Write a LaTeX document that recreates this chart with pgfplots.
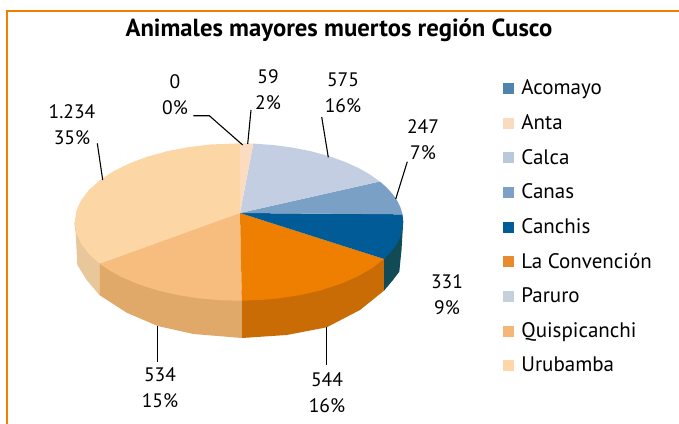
\documentclass[border=0pt]{standalone}
\usepackage{pgfplots}
\pgfplotsset{compat=1.18}
\usepackage{fontspec}
\setmainfont{PT Sans}
\definecolor{cAcomayo}{HTML}{4E84AE}
\definecolor{cAntaL}{HTML}{F8DCBD}
\definecolor{cCalcaL}{HTML}{B9C9DC}
\definecolor{cCanas}{HTML}{7EA0C6}
\definecolor{cCanchis}{HTML}{005C98}
\definecolor{cConvL}{HTML}{E88A2E}
\definecolor{cParuro}{HTML}{C5D1DA}
\definecolor{cQuispiL}{HTML}{F4B778}
\definecolor{cUruL}{HTML}{FDD7A8}
\definecolor{fAnta}{HTML}{FBDCC0}
\definecolor{fCalca}{HTML}{C3CEE2}
\definecolor{fCanas}{HTML}{7AA0C6}
\definecolor{fCanchis}{HTML}{005B97}
\definecolor{fConv}{HTML}{EE7F00}
\definecolor{fQuispi}{HTML}{F7BD7F}
\definecolor{fUru}{HTML}{FCD6A4}
\definecolor{wUru}{HTML}{E8C79B}
\definecolor{wQuispi}{HTML}{E0A96A}
\definecolor{wConv}{HTML}{C96C05}
\definecolor{wCanchis}{HTML}{124A56}
\definecolor{frameor}{HTML}{F08000}
\pgfplotsset{/pgfplots/table/face/.style={row sep=\\,
  x expr={240-\thisrow{r}+164.3*\thisrow{r}*cos(\thisrow{a})},
  y expr={213+9*\thisrow{r}+78.7*\thisrow{r}*sin(\thisrow{a})}}}
\newcommand{\lab}[3]{\node[align=center,font=\fontsize{19.5}{26}\selectfont,text=black] at (axis cs:#1,#2) {#3};}
\begin{document}
\begin{tikzpicture}
\useasboundingbox (0,0) rectangle (679pt,423pt);
\begin{axis}[
  at={(0,0)}, anchor=south west,
  width=679pt, height=423pt, scale only axis,
  xmin=0, xmax=679, ymin=0, ymax=423, y dir=reverse,
  hide axis, clip=true,
  legend cell align=left,
  legend style={at={(axis cs:503,78)},anchor=north west,draw=none,fill=none,
    inner sep=0pt, outer sep=0pt,
    font=\fontsize{21}{21}\selectfont,
    /tikz/every odd column/.append style={column sep=6pt},
    /tikz/row sep=14.2pt},
]
% frame
\addplot[forget plot,frameor,line width=2pt] coordinates {(7,430) (7,10.5) (685,10.5)};
% walls
\addplot[forget plot,fill=wUru,draw=none] coordinates {(74.3,223) (75.7,233) (77.3,265) (86.7,280) (99.3,295) (99.3,263) (200,220)};
\addplot[forget plot,fill=wQuispi,draw=none] coordinates {(99.3,263) (99.3,295) (126.7,312.7) (157.7,326) (193.3,334) (242,338) (242,290)};
\addplot[forget plot,fill=wConv,draw=none] coordinates {(242,290) (242,338) (286.7,335) (326.7,327.3) (360,310) (384,290.7) (384,259)};
\addplot[forget plot,fill=wCanchis,draw=none] coordinates {(384,259) (384,290.7) (393,280) (399.3,271.7) (401.5,250) (403,225)};
% top faces
\addplot[forget plot,fill=fUru,draw=none] table[face] {r a\\ 0 0\\ 1 148\\ 1 156\\ 1 164\\ 1 172\\ 1 180\\ 1 188\\ 1 196\\ 1 204\\ 1 212\\ 1 220\\ 1 228\\ 1 236\\ 1 244\\ 1 252\\ 1 260\\ 1 270.4\\};
\addplot[forget plot,fill=fQuispi,draw=none] table[face] {r a\\ 0 0\\ 1 89\\ 1 96\\ 1 104\\ 1 112\\ 1 120\\ 1 128\\ 1 136\\ 1 142\\ 1 148\\};
\addplot[forget plot,fill=fConv,draw=none] table[face] {r a\\ 0 0\\ 1 28\\ 1 36\\ 1 44\\ 1 52\\ 1 60\\ 1 68\\ 1 76\\ 1 82\\ 1 89\\};
\addplot[forget plot,fill=fCanchis,draw=none] table[face] {r a\\ 0 0\\ 1 -5.6\\ 1 0\\ 1 6\\ 1 12\\ 1 18\\ 1 24\\ 1 28\\};
\addplot[forget plot,fill=fCanas,draw=none] table[face] {r a\\ 0 0\\ 1 -31\\ 1 -26\\ 1 -21\\ 1 -16\\ 1 -11\\ 1 -5.6\\};
\addplot[forget plot,fill=fCalca,draw=none] table[face] {r a\\ 0 0\\ 1 -85\\ 1 -78\\ 1 -71\\ 1 -64\\ 1 -57\\ 1 -50\\ 1 -43\\ 1 -37\\ 1 -31\\};
\addplot[forget plot,fill=fAnta,draw=none] table[face] {r a\\ 0 0\\ 1 270.4\\ 1 273\\ 1 275\\};
% leader lines
\addplot[forget plot,black,line width=1.1pt] coordinates {(97.3,143.3) (102.7,180)};
\addplot[forget plot,black,line width=1.1pt] coordinates {(193.3,115.7) (209.3,115.7) (242.7,145)};
\addplot[forget plot,black,line width=1.1pt] coordinates {(251,110) (247.7,144)};
\addplot[forget plot,black,line width=1.1pt] coordinates {(321.7,117) (328.3,157.3)};
\addplot[forget plot,black,line width=1.1pt] coordinates {(407.3,161.7) (395.7,199)};
\addplot[forget plot,black,line width=1.1pt] coordinates {(157.7,326) (157.7,362)};
\addplot[forget plot,black,line width=1.1pt] coordinates {(326.7,327) (326.7,365)};
% legend
\addlegendimage{legend image code/.code={\fill[cAcomayo] (0pt,-5pt) rectangle (10pt,5pt);}}\addlegendentry{Acomayo}
\addlegendimage{legend image code/.code={\fill[cAntaL] (0pt,-5pt) rectangle (10pt,5pt);}}\addlegendentry{Anta}
\addlegendimage{legend image code/.code={\fill[cCalcaL] (0pt,-5pt) rectangle (10pt,5pt);}}\addlegendentry{Calca}
\addlegendimage{legend image code/.code={\fill[cCanas] (0pt,-5pt) rectangle (10pt,5pt);}}\addlegendentry{Canas}
\addlegendimage{legend image code/.code={\fill[cCanchis] (0pt,-5pt) rectangle (10pt,5pt);}}\addlegendentry{Canchis}
\addlegendimage{legend image code/.code={\fill[cConvL] (0pt,-5pt) rectangle (10pt,5pt);}}\addlegendentry{La Convención}
\addlegendimage{legend image code/.code={\fill[cParuro] (0pt,-5pt) rectangle (10pt,5pt);}}\addlegendentry{Paruro}
\addlegendimage{legend image code/.code={\fill[cQuispiL] (0pt,-5pt) rectangle (10pt,5pt);}}\addlegendentry{Quispicanchi}
\addlegendimage{legend image code/.code={\fill[cUruL] (0pt,-5pt) rectangle (10pt,5pt);}}\addlegendentry{Urubamba}
% labels
\node[font=\fontsize{24.7}{24.7}\selectfont\bfseries,text=black] at (axis cs:339,30) {Animales mayores muertos región Cusco};
\lab{175}{95}{0\\0\%}
\lab{268}{90}{59\\2\%}
\lab{343}{93}{575\\16\%}
\lab{423}{140}{247\\7\%}
\lab{72}{125}{1.234\\35\%}
\lab{447}{295}{331\\9\%}
\lab{160}{388}{534\\15\%}
\lab{327}{393}{544\\16\%}
\end{axis}
\end{tikzpicture}
\end{document}
